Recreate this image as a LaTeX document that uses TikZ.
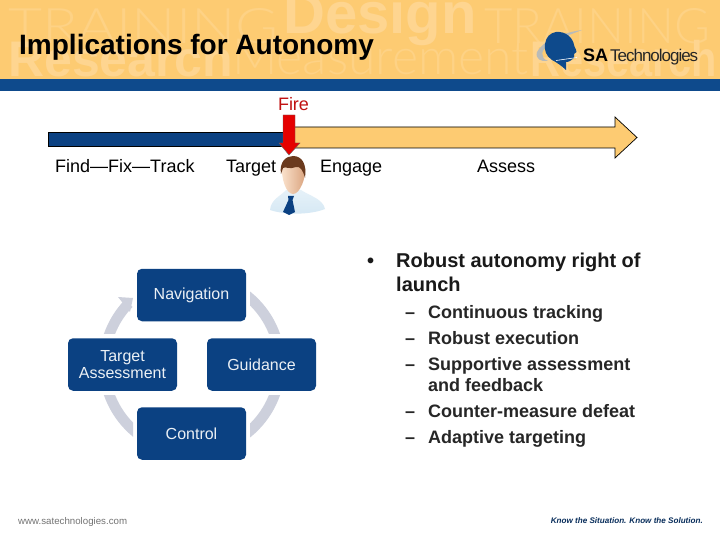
\documentclass[tikz,border=0pt]{standalone}
\usepackage{graphicx}
\usepackage{fontspec}
\setmainfont{Liberation Sans}
\newfontfamily\thinfont{Lato Light}
\definecolor{hdr}{HTML}{FDCB72}
\definecolor{wm}{HTML}{FED590}
\definecolor{wmt}{HTML}{FED285}
\definecolor{band}{HTML}{0E4A8C}
\definecolor{navy}{HTML}{0B4182}
\definecolor{ringc}{HTML}{CDD0DC}
\definecolor{firec}{HTML}{C01010}
\definecolor{logog}{HTML}{B9BBB8}
\definecolor{shirt}{HTML}{D5E8F4}
\definecolor{skinl}{HTML}{FBE3CE}
\definecolor{skind}{HTML}{D9A27C}
\definecolor{hair}{HTML}{6B3A1E}
\tikzset{
 x=1pt,y=-1pt,
 blockbox/.style={draw=none,fill=navy,rounded corners=5pt,minimum width=109pt,minimum height=52.5pt,inner sep=0pt,align=center,text=white!92!navy,font=\fontsize{16}{17}\selectfont},
 ringarc/.style={draw=ringc,line width=10.5pt},
 stagelabel/.style={inner sep=0pt,anchor=base west,text=black,font=\fontsize{18}{20}\selectfont},
 lvlone/.style={inner sep=0pt,anchor=base west,font=\bfseries\fontsize{20}{22}\selectfont,text=black!90},
 lvltwo/.style={inner sep=0pt,anchor=base west,font=\bfseries\fontsize{18}{20}\selectfont,text=black!85},
 wmthin/.style={inner sep=0pt,anchor=base west,text=wmt,font=\thinfont\fontsize{49}{49}\selectfont},
 wmbold/.style={inner sep=0pt,anchor=base west,text=wm,font=\bfseries\fontsize{50}{50}\selectfont},
}
\begin{document}
\begin{tikzpicture}
\useasboundingbox (0,0) rectangle (720,540);
\fill[white] (0,0) rectangle (720,540);
% header
\fill[hdr] (0,0) rectangle (720,79);
\begin{scope}
\clip (0,0) rectangle (720,79);
\node[wmthin] (w1) at (8,44) {\scalebox{1.2}[1]{TRAINING}};
\node[wmbold,font=\bfseries\fontsize{58}{58}\selectfont] (w2) at (283,34) {Design};
\node[wmthin] (w3) at (484,44) {\scalebox{1}[1]{TRAINING}};
\node[wmbold] (w4) at (8,77) {Research};
\node[wmthin,font=\thinfont\fontsize{50}{50}\selectfont] (w5) at (232,75) {Measurement};
\node[wmbold] (w6) at (530,77) {\scalebox{0.83}[1]{Research}};
\end{scope}
\fill[band] (0,79) rectangle (720,91);
\node[inner sep=0pt,anchor=base west,font=\bfseries\fontsize{28}{30}\selectfont] (title) at (19,55) {Implications for Autonomy};
% logo
\fill[logog] (582,30) .. controls (560,33) and (542,42) .. (537,52) .. controls (535,59) and (541,62) .. (548,61) .. controls (540,58) and (540,50) .. (550,44) .. controls (560,38) and (572,34) .. (582,30) -- cycle;
\fill[band] (556,32) .. controls (566,31) and (573,38) .. (574,45) .. controls (575,49) and (577,50) .. (576.5,52) -- (574,54) -- (574,58) .. controls (571,60) and (570,62) .. (566,62) -- (566,70) .. controls (562,66) and (556,62) .. (552,60) .. controls (546,56) and (544,50) .. (545,44) .. controls (546,37) and (550,33) .. (556,32) -- cycle;
\draw[white,line width=.6pt] (556,60.5) -- (577,57.5);
\node[inner sep=0pt,anchor=base west,font=\bfseries\fontsize{18}{18}\selectfont,text=black] (logoa) at (583,62) {SA};
\node[inner sep=0pt,anchor=base west,font=\fontsize{17}{18}\selectfont,text=black!85] (logob) at (610,62) {\addfontfeature{LetterSpace=-6}Technologies};
% timeline
\draw[black,fill=navy,line width=.7pt] (48,132) rectangle (292,146);
\draw[black,fill=hdr,line width=.7pt] (292,127) -- (615,127) -- (615,117) -- (637,137.5) -- (615,158) -- (615,148) -- (292,148) -- cycle;
% person
\shade[top color=shirt!60!white,bottom color=shirt] (270,210) .. controls (271,199) and (281,196) .. (286,190) -- (301,190) .. controls (310,196) and (323,199) .. (325,209) .. controls (310,215) and (285,215) .. (270,210) -- cycle;
\fill[navy] (288,196) -- (294,196) -- (292.5,200) -- (295,212) -- (289,215) -- (283,212) -- (288.5,200) -- cycle;
\shade[left color=skinl,right color=skind] (282,166) .. controls (282,160) and (303,160) .. (305,168) .. controls (306,178) and (300,194) .. (293,194) .. controls (286,194) and (281,178) .. (282,166) -- cycle;
\fill[hair] (281,174) .. controls (279,162) and (286,156) .. (293,156) .. controls (302,156) and (307,164) .. (305,178) .. controls (303,170) and (300,166) .. (296,167) .. controls (290,170) and (285,166) .. (283,168) -- cycle;
% red arrow
\fill[red!90!black] (283,115) -- (295,115) -- (295,143) -- (300,143) -- (289,155) -- (279,143) -- (283,143) -- cycle;
\draw[black!60,line width=.4pt] (283,115) -- (295,115) -- (295,143) -- (300,143) -- (289,155) -- (279,143) -- (283,143) -- cycle;
\node[inner sep=0pt,anchor=base,text=firec,font=\fontsize{18}{20}\selectfont] (fire) at (293.5,110.5) {Fire};
\node[stagelabel] (lfind) at (55,173) {Find—Fix—Track};
\node[stagelabel] (ltarget) at (226,173) {Target};
\node[stagelabel] (lengage) at (320,172.5) {Engage};
\node[stagelabel] (lassess) at (477,172.5) {Assess};
% cycle
\coordinate (hub) at (192,364.5);
\begin{scope}
\clip (250,280) rectangle (295,333);
\draw[ringarc] (hub) ++(-60:88) arc[start angle=-60,end angle=-10,radius=88];
\end{scope}
\begin{scope}
\clip (250,395) rectangle (295,450);
\draw[ringarc] (hub) ++(10:88) arc[start angle=10,end angle=60,radius=88];
\end{scope}
\begin{scope}
\clip (90,395) rectangle (133,450);
\draw[ringarc] (hub) ++(120:88) arc[start angle=120,end angle=170,radius=88];
\end{scope}
\begin{scope}
\clip (90,285) rectangle (135,333);
\draw[ringarc] (hub) ++(190:88) arc[start angle=190,end angle=224,radius=88];
\end{scope}
\fill[ringc] (118,297) -- (133,298) -- (130,312) -- cycle;
\node[blockbox] (nav) at (191.5,295) {Navigation};
\node[blockbox] (gui) at (261.5,364.5) {Guidance};
\node[blockbox] (tar) at (122.5,364.5) {Target\\Assessment};
\node[blockbox] (con) at (191.5,433.5) {Control};
% bullets
\node[lvlone] (b0) at (367,267) {•};
\node[lvlone] (b1) at (396,267) {Robust autonomy right of};
\node[lvlone] (b2) at (396,291) {launch};
\node[lvltwo] (d1) at (405,318) {–};
\node[lvltwo] (s1) at (428,318) {Continuous tracking};
\node[lvltwo] (d2) at (405,344) {–};
\node[lvltwo] (s2) at (428,344) {Robust execution};
\node[lvltwo] (d3) at (405,370) {–};
\node[lvltwo] (s3) at (428,370) {Supportive assessment};
\node[lvltwo] (s3b) at (428,391) {and feedback};
\node[lvltwo] (d4) at (405,417) {–};
\node[lvltwo] (s4) at (428,417) {Counter-measure defeat};
\node[lvltwo] (d5) at (405,443) {–};
\node[lvltwo] (s5) at (428,443) {Adaptive targeting};
% footer
\node[inner sep=0pt,anchor=base west,text=black!55,font=\fontsize{9.7}{11}\selectfont] (url) at (18,524) {www.satechnologies.com};
\node[inner sep=0pt,anchor=base east,text=navy!70!black,font=\bfseries\itshape\fontsize{8.1}{10}\selectfont] (tag) at (703,523) {Know the Situation. Know the Solution.};
\end{tikzpicture}
\end{document}
